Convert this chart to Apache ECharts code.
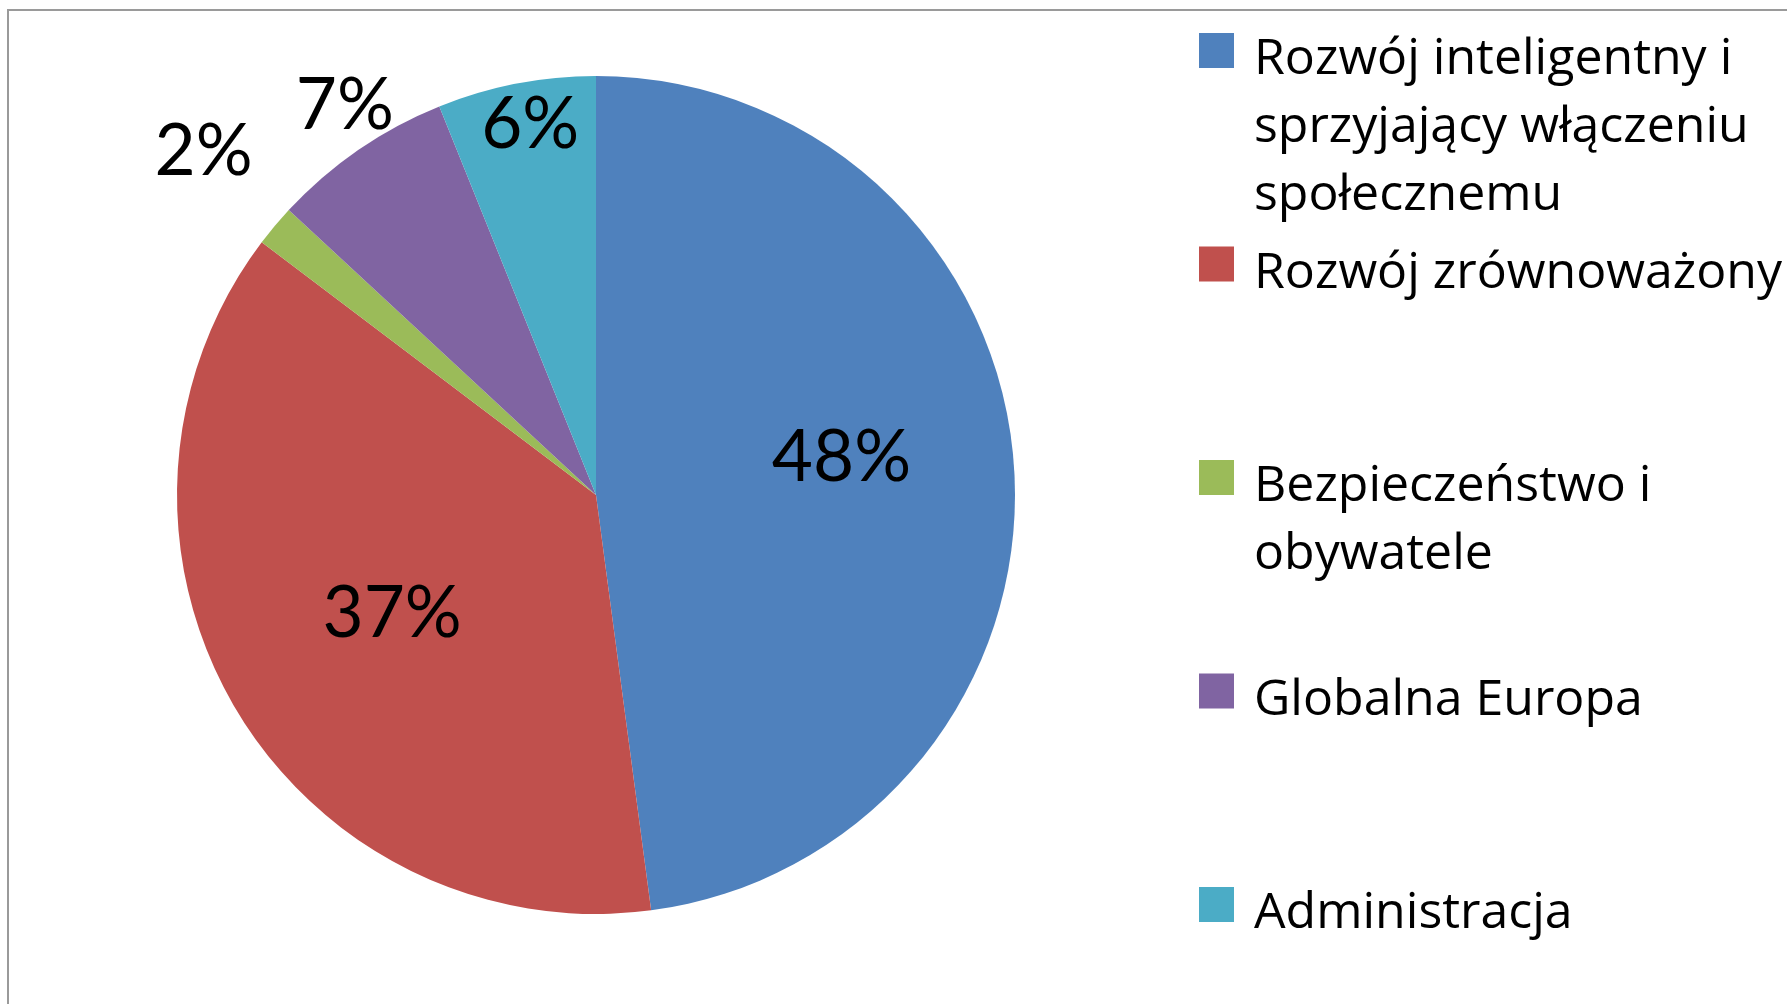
<!DOCTYPE html>
<html>
<head>
<meta charset="utf-8">
<script src="https://cdn.jsdelivr.net/npm/echarts@6/dist/echarts.min.js"></script>
<style>
html,body{margin:0;padding:0;background:#fff;}
#c{width:1787px;height:1004px;}
</style>
</head>
<body>
<div id="c"></div>
<script>
// ---- data ----
const categories = [
  'Rozwój inteligentny i\nsprzyjający włączeniu\nspołecznemu',
  'Rozwój zrównoważony',
  'Bezpieczeństwo i\nobywatele',
  'Globalna Europa',
  'Administracja'
];
const shares = [47.9, 37.4, 1.6, 7.0, 6.1];
const colors = ['#4F81BD', '#C0504D', '#9BBB59', '#8064A2', '#4BACC6'];

// ---- layout / style ----
const LABEL_FONT = 'Lato, "Open Sans", sans-serif';
const LEGEND_FONT = '"Open Sans", Lato, sans-serif';
const CENTER = [596, 495];
const R = 419;
const labelPlacement = [
  { dist: 245, offset: [-2, -21] },
  { dist: 233, offset: [0, 0] },
  { dist: 518, offset: [7, -8] },
  { dist: 461, offset: [12, -7] },
  { dist: 374, offset: [6, 0] }
];

const mainSeries = {
  type: 'pie',
  center: CENTER,
  radius: R,
  startAngle: 90,
  clockwise: true,
  avoidLabelOverlap: false,
  label: { show: false },
  labelLine: { show: false },
  emphasis: { disabled: true },
  itemStyle: { borderWidth: 0 },
  data: categories.map((n, i) => ({ name: n, value: shares[i], itemStyle: { color: colors[i] } }))
};

const labelSeries = labelPlacement.map((lp, k) => ({
  type: 'pie',
  center: CENTER,
  radius: [0, lp.dist * 2],
  startAngle: 90,
  clockwise: true,
  silent: true,
  avoidLabelOverlap: false,
  emphasis: { disabled: true },
  labelLine: { show: false },
  itemStyle: { color: 'rgba(0,0,0,0)', borderWidth: 0 },
  label: {
    show: false,
    position: 'inside',
    formatter: p => Math.round(p.percent) + '%',
    fontFamily: LABEL_FONT,
    fontSize: 71,
    color: '#000',
    offset: lp.offset
  },
  data: categories.map((n, i) => ({
    name: n,
    value: shares[i],
    label: { show: i === k }
  }))
}));

const LINE = 68;
const ITEM_H = 204;
const option = {
  backgroundColor: '#fff',
  animation: false,
  graphic: [{
    type: 'rect',
    silent: true,
    z: -10,
    shape: { x: 8, y: 10, width: 2000, height: 1200 },
    style: { fill: 'none', stroke: '#9a9a9a', lineWidth: 2 }
  }],
  legend: {
    orient: 'vertical',
    left: 1199,
    top: 26,
    height: 1400,
    padding: 0,
    selectedMode: false,
    itemWidth: 35,
    itemHeight: ITEM_H,
    itemGap: 9.5,
    icon: 'path://M0,7h35v35h-35z M0,0h0.01v0.01h-0.01z M0,' + ITEM_H + 'h0.01v-0.01h-0.01z',
    itemStyle: { borderWidth: 0 },
    formatter: name => {
      const n = name.split('\n').length;
      return name + '\n'.repeat(Math.max(0, 3 - n));
    },
    textStyle: {
      fontFamily: LEGEND_FONT,
      fontSize: 50,
      color: '#000',
      lineHeight: LINE,
      height: ITEM_H,
      padding: [0, 0, 0, 15]
    },
    data: categories
  },
  series: [mainSeries].concat(labelSeries)
};

const chart = echarts.init(document.getElementById('c'), null, { renderer: 'canvas' });
chart.setOption(option);
</script>
</body>
</html>
